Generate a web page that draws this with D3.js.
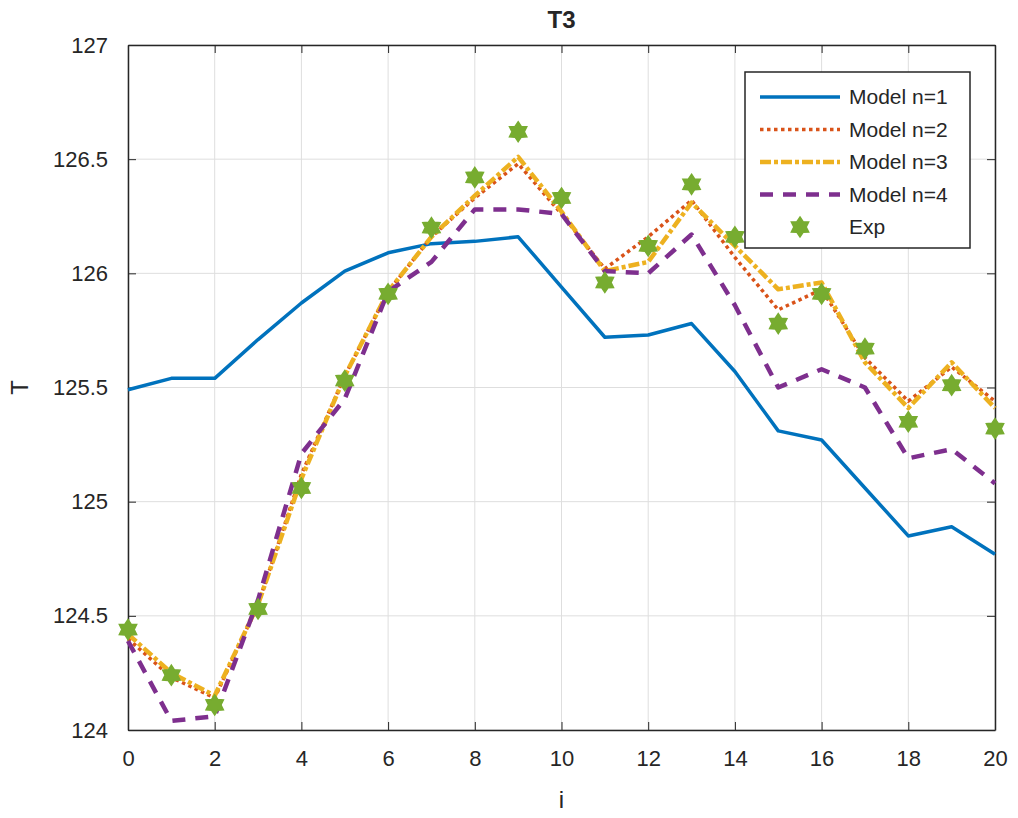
<!DOCTYPE html>
<html>
<head>
<meta charset="utf-8">
<script src="https://cdn.jsdelivr.net/npm/d3@7"></script>
<style>
  body { margin: 0; background: #fff; }
  text { font-family: "Liberation Sans", Arial, sans-serif; fill: #262626; }
</style>
</head>
<body>
<script>
// Data
var steps = d3.range(0, 21);
var model1 = [125.49, 125.54, 125.54, 125.71, 125.87, 126.01, 126.09, 126.13, 126.14, 126.16, 125.94,
              125.72, 125.73, 125.78, 125.57, 125.31, 125.27, 125.06, 124.85, 124.89, 124.77];
var model2 = [124.40, 124.23, 124.14, 124.55, 125.12, 125.55, 125.92, 126.16, 126.33, 126.48, 126.26,
              126.02, 126.16, 126.32, 126.07, 125.84, 125.93, 125.63, 125.44, 125.59, 125.44];
var model3 = [124.42, 124.25, 124.15, 124.55, 125.10, 125.55, 125.92, 126.16, 126.34, 126.51, 126.27,
              126.01, 126.05, 126.31, 126.12, 125.93, 125.96, 125.61, 125.41, 125.61, 125.41];
var model4 = [124.39, 124.04, 124.06, 124.57, 125.21, 125.45, 125.92, 126.05, 126.28, 126.28, 126.26,
              126.01, 126.00, 126.17, 125.86, 125.50, 125.58, 125.50, 125.19, 125.23, 125.08];
var expData = [124.44, 124.24, 124.11, 124.53, 125.06, 125.53, 125.91, 126.20, 126.42, 126.62, 126.33,
               125.96, 126.12, 126.39, 126.16, 125.78, 125.91, 125.67, 125.35, 125.51, 125.32];
var xTicks = [0, 2, 4, 6, 8, 10, 12, 14, 16, 18, 20];
var yTicks = [124, 124.5, 125, 125.5, 126, 126.5, 127];
var seriesNames = ["Model n=1", "Model n=2", "Model n=3", "Model n=4", "Exp"];

var margin = {top: 45, right: 23, bottom: 88, left: 128},
    width = 1018 - margin.left - margin.right,
    height = 818 - margin.top - margin.bottom;

var svg = d3.select("body")
  .append("svg")
    .attr("width", 1018)
    .attr("height", 818);

var g = svg.append("g")
    .attr("transform", "translate(" + margin.left + "," + margin.top + ")");

var x = d3.scaleLinear().domain([0, 20]).range([0, width]);
var y = d3.scaleLinear().domain([124, 127]).range([height, 0]);

// Grid
g.append("g").selectAll("line").data(xTicks).enter().append("line")
  .attr("x1", function(d) { return x(d); }).attr("x2", function(d) { return x(d); })
  .attr("y1", 0).attr("y2", height)
  .attr("stroke", "#dedede").attr("stroke-width", 1);
g.append("g").selectAll("line").data(yTicks).enter().append("line")
  .attr("y1", function(d) { return y(d); }).attr("y2", function(d) { return y(d); })
  .attr("x1", 0).attr("x2", width)
  .attr("stroke", "#dedede").attr("stroke-width", 1);

// Axes (inward ticks on all four sides)
function styleAxis(sel) {
  sel.select(".domain").attr("stroke", "#262626").attr("stroke-width", 1.5);
  sel.selectAll(".tick line").attr("stroke", "#262626").attr("stroke-width", 1);
  sel.selectAll(".tick text").attr("fill", "#333")
    .style("font-family", "'Liberation Sans', Arial, sans-serif").style("font-size", "22px");
}
g.append("g")
  .attr("transform", "translate(0," + height + ")")
  .call(d3.axisBottom(x).tickValues(xTicks).tickSizeInner(-8).tickSizeOuter(0).tickPadding(20))
  .call(styleAxis);
g.append("g")
  .call(d3.axisTop(x).tickValues(xTicks).tickSizeInner(-8).tickSizeOuter(0).tickFormat(""))
  .call(styleAxis);
g.append("g")
  .call(d3.axisLeft(y).tickValues(yTicks).tickSizeInner(-8).tickSizeOuter(0).tickPadding(20).tickFormat(d3.format("")))
  .call(styleAxis);
g.append("g")
  .attr("transform", "translate(" + width + ",0)")
  .call(d3.axisRight(y).tickValues(yTicks).tickSizeInner(-8).tickSizeOuter(0).tickFormat(""))
  .call(styleAxis);

// Lines
var series = [
  {name: seriesNames[0], values: model1, color: "#0072BD", width: 3.5, dash: null},
  {name: seriesNames[1], values: model2, color: "#D95319", width: 3.5, dash: "3.5,3.5"},
  {name: seriesNames[2], values: model3, color: "#EDB120", width: 4.5, dash: "11,3,4,3"},
  {name: seriesNames[3], values: model4, color: "#7E2F8E", width: 4.5, dash: "13,10"}
];

var line = d3.line()
  .x(function(d, i) { return x(steps[i]); })
  .y(function(d) { return y(d); });

g.selectAll(".model")
  .data(series)
  .enter()
  .append("path")
    .attr("class", "model")
    .attr("d", function(s) { return line(s.values); })
    .attr("fill", "none")
    .attr("stroke", function(s) { return s.color; })
    .attr("stroke-width", function(s) { return s.width; })
    .attr("stroke-dasharray", function(s) { return s.dash; })
    .attr("stroke-linejoin", "round");

// Hexagram marker
function hexagram(r) {
  var pts = d3.range(12).map(function(k) {
    var a = -Math.PI / 2 + k * Math.PI / 6;
    var rr = k % 2 === 0 ? r : r * 0.62;
    return [rr * Math.cos(a), rr * Math.sin(a)];
  });
  return d3.line().curve(d3.curveLinearClosed)(pts);
}

g.selectAll(".exp")
  .data(expData)
  .enter()
  .append("path")
    .attr("class", "exp")
    .attr("transform", function(d, i) { return "translate(" + x(steps[i]) + "," + y(d) + ")"; })
    .attr("d", hexagram(10))
    .attr("fill", "#77AC30")
    .attr("stroke", "#77AC30")
    .attr("stroke-width", 1.5);

// Title and labels
svg.append("text")
  .attr("x", margin.left + width / 2).attr("y", 28)
  .attr("text-anchor", "middle")
  .style("font-size", "24px").style("font-weight", "bold")
  .text("T3");
svg.append("text")
  .attr("x", margin.left + width / 2).attr("y", 808)
  .attr("text-anchor", "middle")
  .style("font-size", "24px")
  .text("i");
svg.append("text")
  .attr("transform", "translate(28," + (margin.top + height / 2) + ") rotate(-90)")
  .attr("text-anchor", "middle")
  .style("font-size", "24px")
  .text("T");

// Legend
var legend = svg.append("g").attr("transform", "translate(745,72)");
legend.append("rect")
  .attr("width", 225).attr("height", 176)
  .attr("fill", "#fff").attr("stroke", "#262626").attr("stroke-width", 1.5);

var rowH = 32.5;
var entries = legend.selectAll(".entry")
  .data(series)
  .enter()
  .append("g")
    .attr("class", "entry")
    .attr("transform", function(s, i) { return "translate(0," + (25 + i * rowH) + ")"; });
entries.append("line")
  .attr("x1", 15).attr("x2", 95)
  .attr("stroke", function(s) { return s.color; })
  .attr("stroke-width", function(s) { return s.width; })
  .attr("stroke-dasharray", function(s) { return s.dash; });
entries.append("text")
  .attr("x", 104).attr("dy", "0.35em")
  .style("font-size", "21px")
  .text(function(s) { return s.name; });

var expEntry = legend.append("g").attr("transform", "translate(0," + (25 + 4 * rowH) + ")");
expEntry.append("path")
  .attr("transform", "translate(55,0)")
  .attr("d", hexagram(10))
  .attr("fill", "#77AC30").attr("stroke", "#77AC30").attr("stroke-width", 1.5);
expEntry.append("text")
  .attr("x", 104).attr("dy", "0.35em")
  .style("font-size", "21px")
  .text(seriesNames[4]);
</script>
</body>
</html>
